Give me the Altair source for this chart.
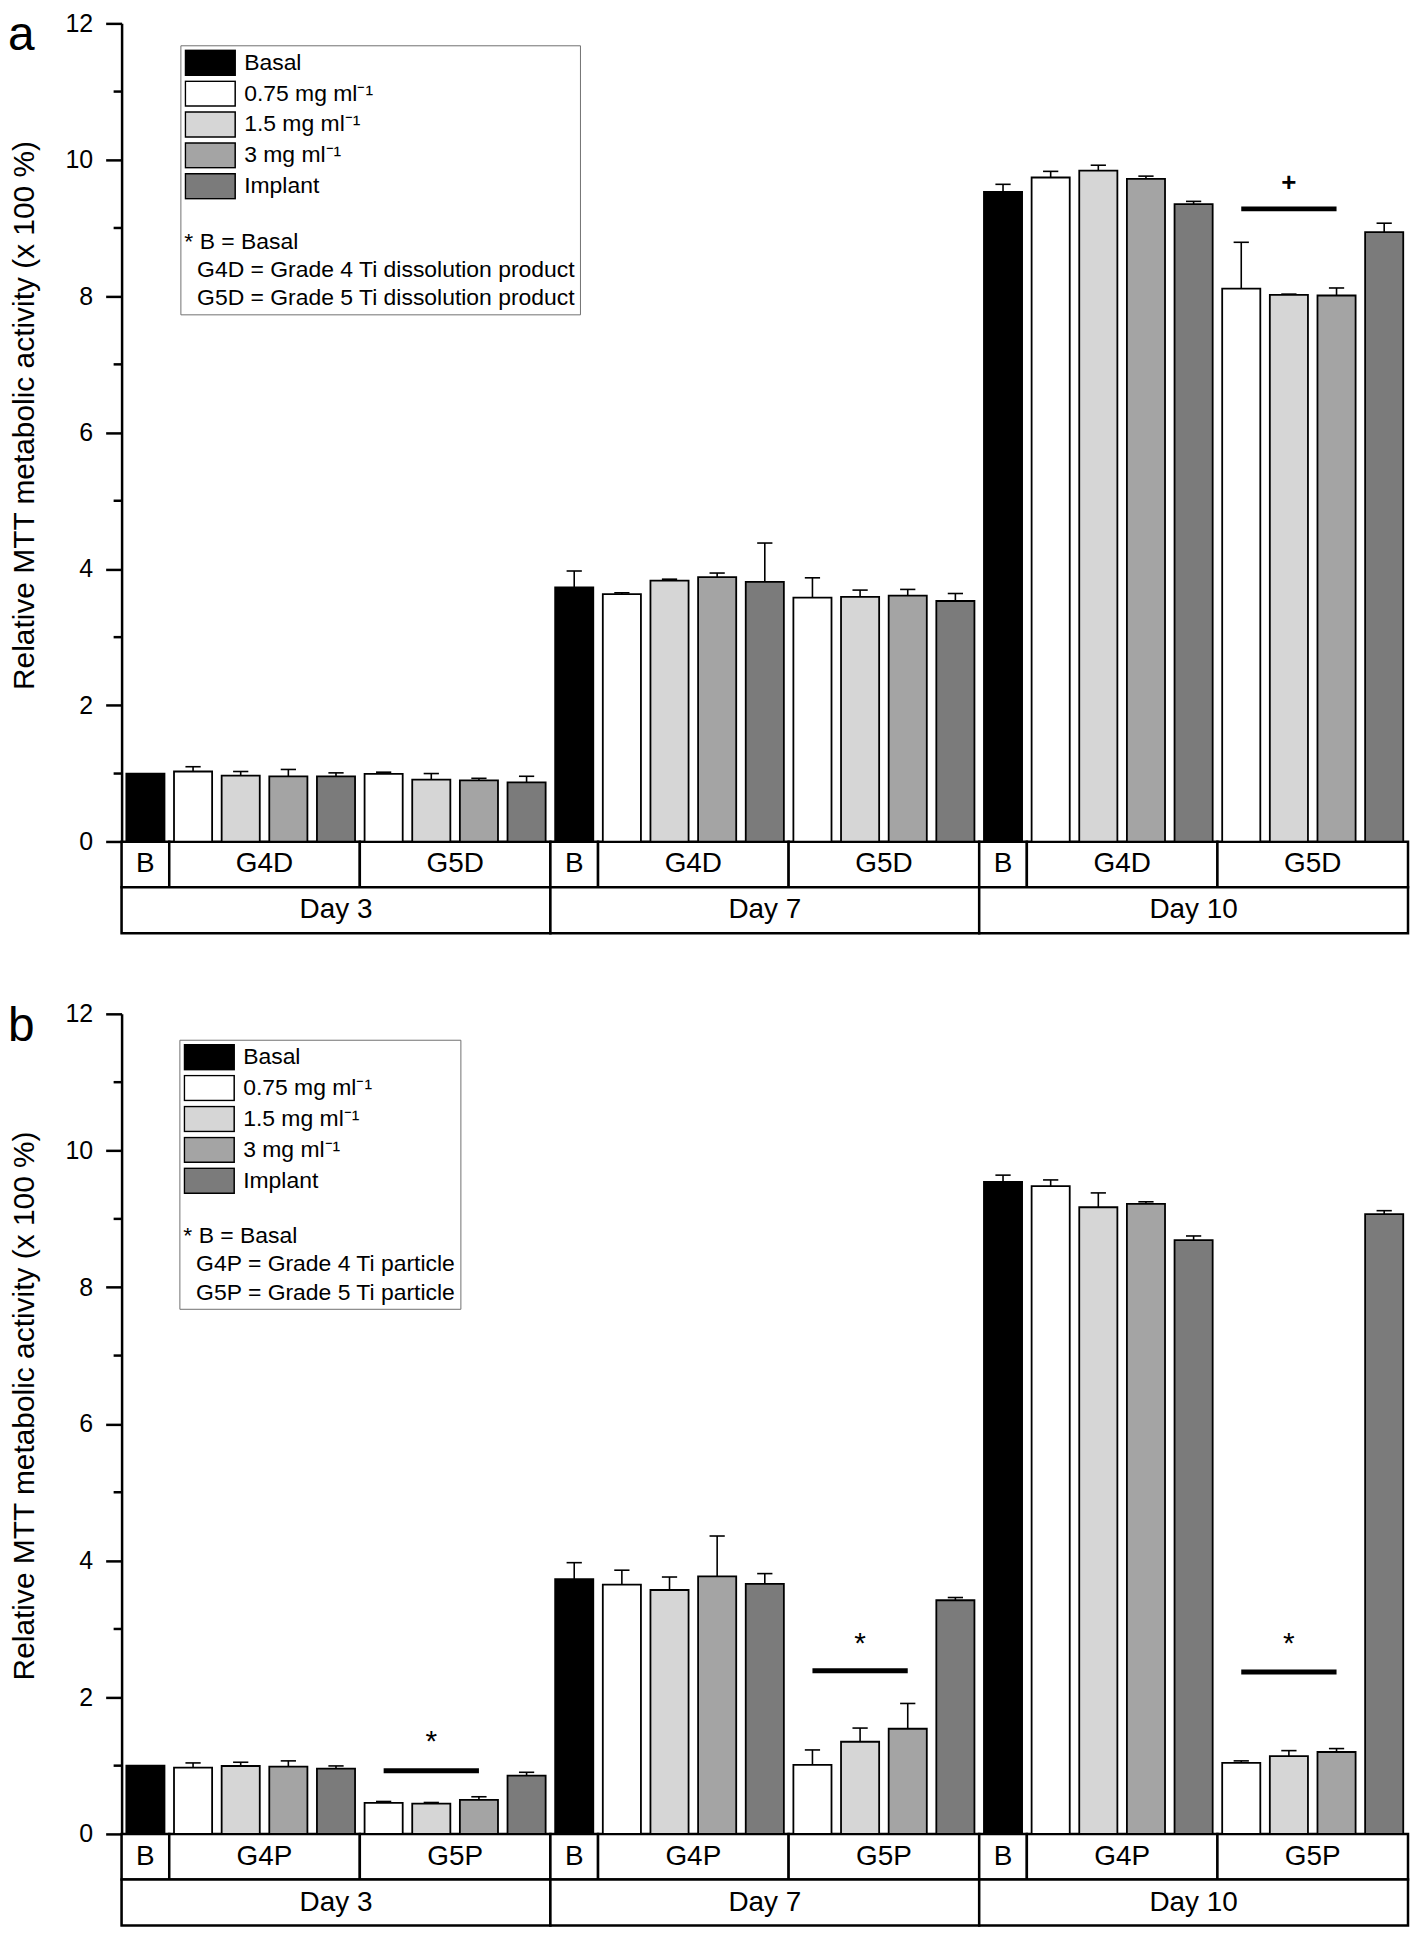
import altair as alt
import pandas as pd

FONT = "Liberation Sans"

# ---------------- data ----------------
days = ["Day 3", "Day 7", "Day 10"]
series = ["Basal", "0.75 mg ml\u207b\u00b9", "1.5 mg ml\u207b\u00b9", "3 mg ml\u207b\u00b9", "Implant"]
series_colors = ["#000000", "#ffffff", "#d6d6d6", "#a4a4a4", "#7b7b7b"]
# order of the 9 bars inside each day: Basal, grade-4 x4, grade-5 x4
bar_series_idx = [0, 1, 2, 3, 4, 1, 2, 3, 4]

groups_a = ["B", "G4D", "G5D"]
groups_b = ["B", "G4P", "G5P"]

IND = "\u200b\u00a0\u00a0"
notes_a = ["* B = Basal",
           IND + "G4D = Grade 4 Ti dissolution product",
           IND + "G5D = Grade 5 Ti dissolution product"]
notes_b = ["* B = Basal",
           IND + "G4P = Grade 4 Ti particle",
           IND + "G5P = Grade 5 Ti particle"]

# panel a (dissolution products)
a_day3_mean = [1.00, 1.03, 0.97, 0.96, 0.96, 0.995, 0.91, 0.90, 0.87]
a_day3_sd = [0.0, 0.07, 0.06, 0.10, 0.05, 0.025, 0.09, 0.03, 0.09]
a_day7_mean = [3.73, 3.63, 3.83, 3.88, 3.81, 3.58, 3.59, 3.61, 3.53]
a_day7_sd = [0.24, 0.02, 0.02, 0.06, 0.57, 0.29, 0.10, 0.09, 0.11]
a_day10_mean = [9.53, 9.74, 9.84, 9.72, 9.35, 8.11, 8.02, 8.01, 8.94]
a_day10_sd = [0.11, 0.09, 0.08, 0.04, 0.04, 0.68, 0.01, 0.11, 0.13]

# panel b (particles)
b_day3_mean = [1.00, 0.97, 0.995, 0.985, 0.956, 0.456, 0.446, 0.50, 0.853]
b_day3_sd = [0.0, 0.07, 0.055, 0.085, 0.04, 0.02, 0.015, 0.045, 0.05]
b_day7_mean = [3.73, 3.65, 3.57, 3.77, 3.66, 1.01, 1.35, 1.54, 3.42]
b_day7_sd = [0.24, 0.21, 0.19, 0.59, 0.15, 0.22, 0.20, 0.37, 0.04]
b_day10_mean = [9.54, 9.48, 9.17, 9.22, 8.69, 1.04, 1.14, 1.20, 9.07]
b_day10_sd = [0.10, 0.09, 0.21, 0.03, 0.06, 0.03, 0.08, 0.05, 0.05]

# significance annotations (day index, bar level, symbol level, symbol)
a_sig_day = [2]
a_sig_line = [9.28]
a_sig_mark = [9.67]
a_sig_symbol = ["+"]
b_sig_day = [0, 1, 2]
b_sig_line = [0.926, 2.39, 2.37]
b_sig_mark = [1.46, 2.89, 2.90]
b_sig_symbol = ["*", "*", "*"]

y_major = [0, 2, 4, 6, 8, 10, 12]
y_minor = [1, 3, 5, 7, 9, 11]

# ---------------- layout constants ----------------
Y_MIN = -1.34
ROW_SPLIT = -0.667
PLOT_W = 1291
xscale = alt.Scale(domain=[0, 27], nice=False, zero=False)
yscale = alt.Scale(domain=[Y_MIN, 12], nice=False, zero=False)

yaxis = alt.Axis(values=y_major, title="Relative MTT metabolic activity (x 100 %)",
                 titleFontSize=30, titleFontWeight="normal", titleColor="black",
                 titleAngle=270, titleBaseline="bottom", titleAlign="center",
                 titleX=-82, titleY=393,
                 labelFontSize=25, labelColor="black", labelPadding=13,
                 labelFlush=False, labelOverlap=False,
                 tickSize=16, tickWidth=2.5, tickColor="black",
                 domainColor="black", domainWidth=2.5, grid=False)


def panel(means, sds, groups, notes, sig_day, sig_line, sig_mark, sig_symbol,
          sym_size, sym_weight, sym_dy, letter, height, legend_x, legend_y):
    rows = []
    for d in range(3):
        for k in range(9):
            i = d * 9 + k
            rows.append(dict(series=series[bar_series_idx[k]],
                             mean=means[d][k], top=means[d][k] + sds[d][k],
                             has_err=sds[d][k] > 0,
                             x0=i + 0.1, x1=i + 0.9, xc=i + 0.5,
                             c0=i + 0.5 - 0.16, c1=i + 0.5 + 0.16))
    bdf = pd.DataFrame(rows)
    edf = bdf[bdf["has_err"]].copy()

    cells = []
    for d in range(3):
        base = d * 9
        for g, (s, e) in zip(groups, [(0, 1), (1, 5), (5, 9)]):
            cells.append(dict(label=g, x0=base + s, x1=base + e, y0=ROW_SPLIT, y1=0.0))
        cells.append(dict(label=days[d], x0=base, x1=base + 9, y0=Y_MIN, y1=ROW_SPLIT))
    cdf = pd.DataFrame(cells)
    cdf["xm"] = (cdf["x0"] + cdf["x1"]) / 2
    cdf["ym"] = (cdf["y0"] + cdf["y1"]) / 2

    sdf = pd.DataFrame(dict(day=sig_day, line=sig_line, mark=sig_mark, sym=sig_symbol))
    sdf["xs"] = sdf["day"] * 9 + 5.5
    sdf["xe"] = sdf["day"] * 9 + 7.5
    sdf["xm"] = sdf["day"] * 9 + 6.5

    def X(f):
        return alt.X(f, scale=xscale, axis=None)

    def Y(f):
        return alt.Y(f, scale=yscale, axis=yaxis)

    table = alt.Chart(cdf).mark_rect(fill="white", stroke="black", strokeWidth=2.5).encode(
        x=X("x0:Q"), x2="x1:Q", y=Y("y0:Q"), y2="y1:Q")
    table_text = alt.Chart(cdf).mark_text(fontSize=28, color="black", baseline="middle",
                                          align="center").encode(
        x=X("xm:Q"), y=Y("ym:Q"), text="label:N")

    legend = alt.Legend(title=notes, titleOrient="bottom", orient="none",
                        legendX=legend_x, legendY=legend_y, direction="vertical",
                        symbolType="M-1,-0.5H1V0.5H-1Z", symbolSize=2500,
                        clipHeight=27, symbolStrokeColor="black", symbolStrokeWidth=1.5,
                        symbolOpacity=1, labelFontSize=23, labelColor="black",
                        labelOffset=8, labelLimit=400, rowPadding=4, padding=4,
                        strokeColor="#707070", fillColor="white",
                        titleFontSize=23, titleFontWeight="normal", titleColor="black",
                        titleLineHeight=28.5, titlePadding=31, titleAlign="left",
                        titleAnchor="start", titleLimit=800)

    bars = alt.Chart(bdf).mark_bar(stroke="black", strokeWidth=1.8).encode(
        x=X("x0:Q"), x2="x1:Q",
        y=Y("mean:Q"), y2=alt.datum(0),
        color=alt.Color("series:N", scale=alt.Scale(domain=series, range=series_colors),
                        legend=legend))

    err = alt.Chart(edf).mark_rule(color="black", strokeWidth=1.6).encode(
        x=X("xc:Q"), y=Y("mean:Q"), y2="top:Q")
    caps = alt.Chart(edf).mark_rule(color="black", strokeWidth=1.6).encode(
        x=X("c0:Q"), x2="c1:Q", y=Y("top:Q"))

    sig_lines = alt.Chart(sdf).mark_rule(color="black", strokeWidth=5).encode(
        x=X("xs:Q"), x2="xe:Q", y=Y("line:Q"))
    sig_text = alt.Chart(sdf).mark_text(fontSize=sym_size, fontWeight=sym_weight,
                                        color="black", baseline="middle", align="center",
                                        dy=sym_dy).encode(
        x=X("xm:Q"), y=Y("mark:Q"), text="sym:N")

    minor = alt.Chart(pd.DataFrame({"v": y_minor})).mark_rule(
        color="black", strokeWidth=2.5).encode(
        x=alt.value(-8), x2=alt.value(0), y=Y("v:Q"))

    letter_mark = alt.Chart(pd.DataFrame({"t": [letter]})).mark_text(
        fontSize=48, color="black", align="left", baseline="alphabetic").encode(
        x=alt.value(-114), y=alt.value(27), text="t:N")

    return alt.layer(table, table_text, bars, err, caps, sig_lines, sig_text,
                     minor, letter_mark).properties(width=PLOT_W, height=height)


panel_a = panel([a_day3_mean, a_day7_mean, a_day10_mean],
                [a_day3_sd, a_day7_sd, a_day10_sd],
                groups_a, notes_a, a_sig_day, a_sig_line, a_sig_mark, a_sig_symbol,
                26, "bold", 1, "a", 913, 59, 22)
panel_b = panel([b_day3_mean, b_day7_mean, b_day10_mean],
                [b_day3_sd, b_day7_sd, b_day10_sd],
                groups_b, notes_b, b_sig_day, b_sig_line, b_sig_mark, b_sig_symbol,
                30, "normal", 8, "b", 915, 58, 26)

chart = alt.vconcat(panel_a, panel_b, spacing=67).resolve_scale(
    color="independent").resolve_legend(color="independent").properties(
    padding=0).configure(font=FONT).configure_view(stroke=None)

chart.save("out.html", embed_options={"renderer": "svg", "actions": False})
